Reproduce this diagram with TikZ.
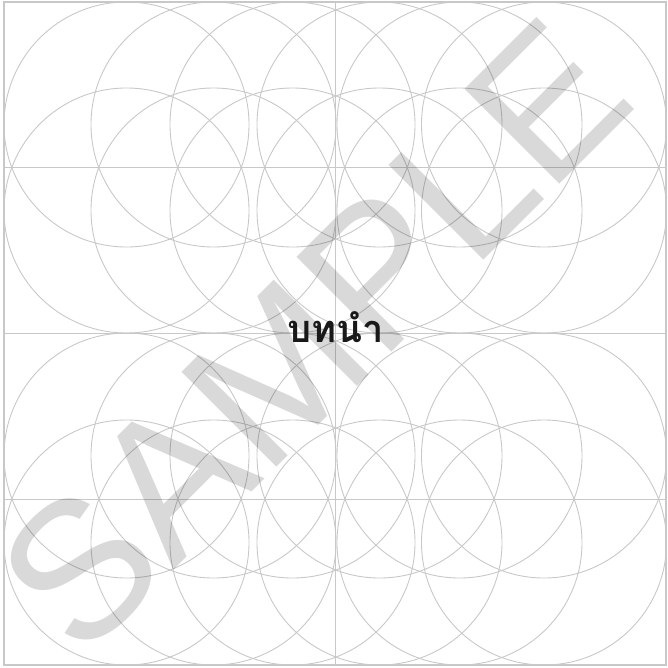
\documentclass[tikz,border=0pt]{standalone}
\usepackage{fontspec}
\newfontfamily\thaifont[Script=Thai]{Loma}
\newfontfamily\wmfont{Liberation Sans}
\definecolor{gridgray}{HTML}{C8C8C8}
\tikzset{
  gridline/.style={draw=gridgray, line width=1.1pt},
  ring/.style={draw=gridgray, line width=0.9pt},
  watermark/.style={rotate=45, inner sep=0pt, anchor=base, text=black, text opacity=0.15,
    font=\wmfont\fontsize{195}{195}\selectfont},
  titletext/.style={inner sep=0pt, anchor=base, text=black!90,
    font=\thaifont\bfseries\fontsize{38}{38}\selectfont}
}
\begin{document}
\begin{tikzpicture}[x=1pt, y=-1pt]
\useasboundingbox (0,0) rectangle (668,667);
% rings
\foreach \cy in {124.5, 210.5, 455.5, 542.5}{
  \foreach \cx in {126.5, 213.5, 292.5, 379.5, 459.5, 544}{
    \draw[ring] (\cx,\cy) circle[radius=122.5];
  }
}
% frame and dividing lines
\coordinate (tl) at (4,2);
\coordinate (br) at (666,665);
\coordinate (l1) at (4,167.5);  \coordinate (r1) at (666,167.5);
\coordinate (l2) at (4,333.5);  \coordinate (r2) at (666,333.5);
\coordinate (l3) at (4,499.5);  \coordinate (r3) at (666,499.5);
\coordinate (vt) at (335.5,2);  \coordinate (vb) at (335.5,665);
\draw[gridline] (tl) rectangle (br);
\draw[gridline] (l1) -- (r1);
\draw[gridline] (l2) -- (r2);
\draw[gridline] (l3) -- (r3);
\draw[gridline] (vt) -- (vb);
% watermark
\node[watermark] (wm) at (361,383) {SAMPLE};
% title
\node[titletext] (title) at (336,342.5) {บทนำ};
\end{tikzpicture}
\end{document}
